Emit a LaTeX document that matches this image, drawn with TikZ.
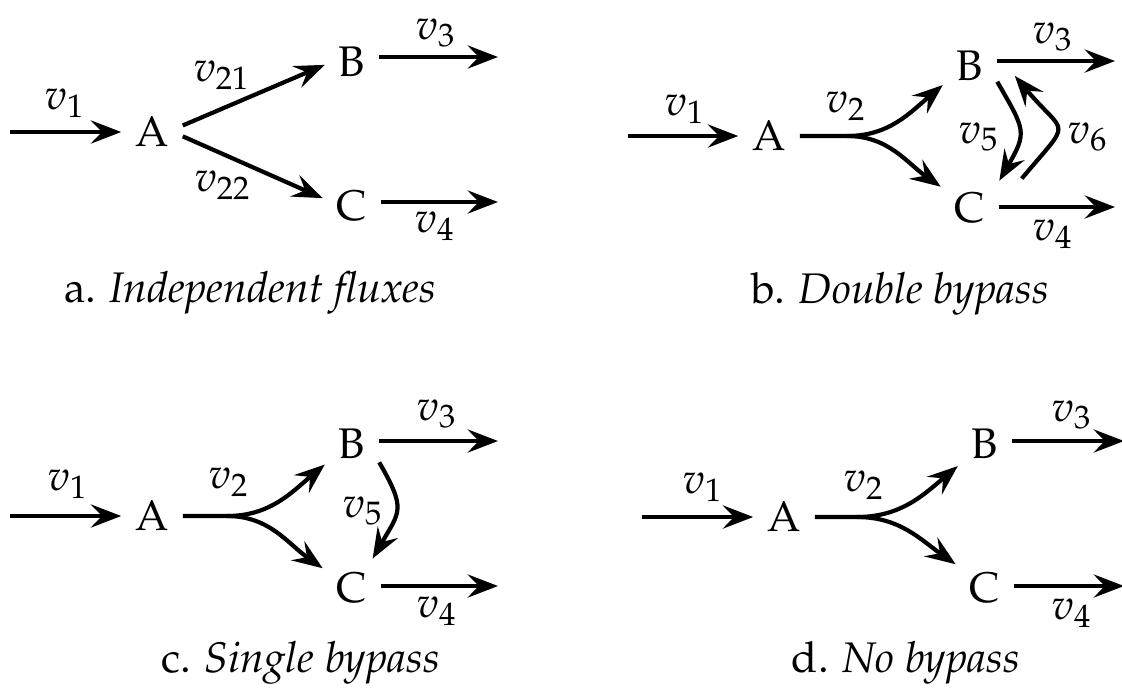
\documentclass[tikz,border=0pt]{standalone}
\usepackage[T1]{fontenc}
\usepackage{mathpazo}
\usetikzlibrary{arrows.meta}

\begin{document}
\begin{tikzpicture}[x=0.25pt,y=0.25pt,font=\fontsize{10.7pt}{13pt}\selectfont,
  flux/.style={line width=1.05pt,-{Stealth[length=7.6pt,width=5.8pt,inset=2.8pt]}}]
\useasboundingbox (0,0) rectangle (1122,690);

% a. Independent fluxes
\node (A1) at (152,558) {A};
\node (B1) at (352,628) {B};
\node (C1) at (352,484) {C};
\coordinate (in1) at (10,558);
\coordinate (out1b) at (498,633);
\coordinate (out1c) at (498,488);
\draw[flux] (in1) -- (A1);
\draw[flux] (A1.12) -- (B1.186);
\draw[flux] (A1.-8) -- (C1.165);
\draw[flux] (B1.east |- out1b) -- (out1b);
\draw[flux] (C1.east |- out1c) -- (out1c);
\node (v1a) at (65,587) {$v_1$};
\node (v21a) at (222,615) {$v_{21}$};
\node (v22a) at (223,505) {$v_{22}$};
\node (v3a) at (436,657) {$v_3$};
\node (v4a) at (435,464) {$v_4$};
\node[anchor=base] (capa) at (250,388) {a. \textit{Independent fluxes}};

% b. Double bypass
\node (A2) at (769,554) {A};
\node (B2) at (970,624) {B};
\node (C2) at (970,482) {C};
\coordinate (in2) at (628,554);
\coordinate (br2) at (847,554);
\coordinate (out2b) at (1115,629);
\coordinate (out2c) at (1115,483);
\draw[flux] (in2) -- (A2);
\draw[flux] (A2) -- (br2) to[out=0,in=220] (B2.215);
\draw[flux] (br2) to[out=0,in=145] (C2.144);
\draw[flux] (B2.-30) to[out=-60,in=60,looseness=1.45] (C2.43);
\draw[flux] ([xshift=5.6pt]C2.north east) to[out=50,in=-50,looseness=2] ([xshift=4.4pt]B2.-20);
\draw[flux] (B2.east |- out2b) -- (out2b);
\draw[flux] (C2.east |- out2c) -- (out2c);
\node (v1b) at (685,581) {$v_1$};
\node (v2b) at (846,584) {$v_2$};
\node (v3b) at (1053,653) {$v_3$};
\node (v5b) at (979,553) {$v_5$};
\node (v6b) at (1088,553) {$v_6$};
\node (v4b) at (1053,456) {$v_4$};
\node[anchor=base] (capb) at (900,387) {b. \textit{Double bypass}};

% c. Single bypass
\node (A3) at (152,174) {A};
\node (B3) at (352,246) {B};
\node (C3) at (352,102) {C};
\coordinate (in3) at (10,174);
\coordinate (br3) at (227,174);
\coordinate (out3b) at (498,249);
\coordinate (out3c) at (498,104);
\draw[flux] (in3) -- (A3);
\draw[flux] (A3) -- (br3) to[out=0,in=220] (B3.217);
\draw[flux] (br3) to[out=0,in=145] (C3.146);
\draw[flux] (B3.-34) to[out=-60,in=60,looseness=1.45] (C3.55);
\draw[flux] (B3.east |- out3b) -- (out3b);
\draw[flux] (C3.east |- out3c) -- (out3c);
\node (v1c) at (68,206) {$v_1$};
\node (v2c) at (229,208) {$v_2$};
\node (v3c) at (437,276) {$v_3$};
\node (v5c) at (363,179) {$v_5$};
\node (v4c) at (437,79) {$v_4$};
\node[anchor=base] (capc) at (301,18) {c. \textit{Single bypass}};

% d. No bypass
\node (A4) at (784,173) {A};
\node (B4) at (985,246) {B};
\node (C4) at (985,102) {C};
\coordinate (in4) at (642,173);
\coordinate (br4) at (857,173);
\coordinate (out4b) at (1124,249);
\coordinate (out4c) at (1124,104);
\draw[flux] (in4) -- (A4);
\draw[flux] (A4) -- (br4) to[out=0,in=220] (B4.219);
\draw[flux] (br4) to[out=0,in=145] (C4.141);
\draw[flux] (B4.east |- out4b) -- (out4b);
\draw[flux] (C4.east |- out4c) -- (out4c);
\node (v1d) at (703,203) {$v_1$};
\node (v2d) at (864,205) {$v_2$};
\node (v3d) at (1072,275) {$v_3$};
\node (v4d) at (1072,77) {$v_4$};
\node[anchor=base] (capd) at (906,18) {d. \textit{No bypass}};
\end{tikzpicture}
\end{document}
